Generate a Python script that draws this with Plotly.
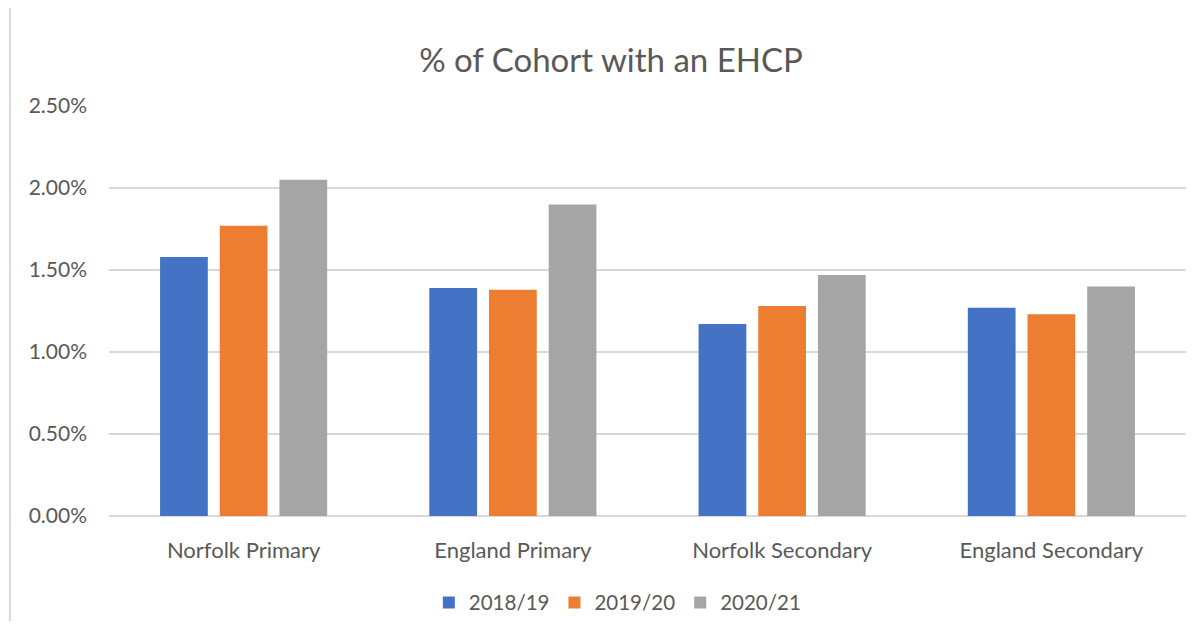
import plotly.graph_objects as go

# categories and series
categories = ["Norfolk Primary", "England Primary", "Norfolk Secondary", "England Secondary"]
years = ["2018/19", "2019/20", "2020/21"]
pct_2018_19 = [0.0158, 0.0139, 0.0117, 0.0127]
pct_2019_20 = [0.0177, 0.0138, 0.0128, 0.0123]
pct_2020_21 = [0.0205, 0.0190, 0.0147, 0.0140]

colors = ["#4472C4", "#ED7D31", "#A5A5A5"]
series = [pct_2018_19, pct_2019_20, pct_2020_21]

fig = go.Figure()
for name, vals, col in zip(years, series, colors):
    fig.add_trace(go.Bar(x=categories, y=vals, name=name, marker_color=col,
                         marker_line_width=0))

font_fam = "Lato, Noto Sans, sans-serif"
fig.update_layout(
    width=1187, height=613,
    margin=dict(l=101, r=9, t=98, b=105, autoexpand=False),
    paper_bgcolor="white", plot_bgcolor="white",
    font=dict(family=font_fam, color="#595959", size=20),
    title=dict(text="% of Cohort with an EHCP", x=0.508, xanchor="center",
               y=0.915, yanchor="middle", font=dict(size=33, color="#595959")),
    barmode="group", bargap=0.335, bargroupgap=0.2,
    legend=dict(orientation="h", x=0.472, xanchor="center",
                yref="container", y=0.03, yanchor="middle",
                font=dict(size=20.5, color="#595959"), itemwidth=30, traceorder="normal"),
    showlegend=True,
)
fig.update_yaxes(range=[0, 0.025], dtick=0.005, tickformat=".2%",
                 showgrid=True, gridcolor="#d9d9d9", gridwidth=1.5,
                 zeroline=True, zerolinecolor="#d9d9d9", zerolinewidth=1.5,
                 ticks="", ticklabelstandoff=21, tickfont=dict(size=21))
fig.update_xaxes(showline=False, ticks="", tickfont=dict(size=22),
                 ticklabelstandoff=19)

# chart-area border on the left edge
fig.add_shape(type="line", xref="paper", yref="paper",
              x0=-0.0919, x1=-0.0919, y0=-0.3, y1=1.25,
              line=dict(color="#d9d9d9", width=2))

fig.write_html("out.html")
